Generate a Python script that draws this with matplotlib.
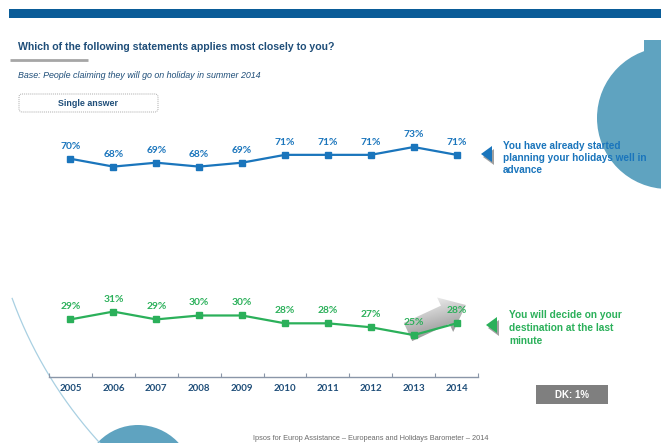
import numpy as np
import matplotlib
matplotlib.use('Agg')
import matplotlib.pyplot as plt
from matplotlib.patches import Rectangle, Circle, Polygon, FancyBboxPatch

plt.rcParams['font.family'] = ['Liberation Sans', 'DejaVu Sans']

years = ['2005', '2006', '2007', '2008', '2009', '2010', '2011', '2012', '2013', '2014']
advance = [70, 68, 69, 68, 69, 71, 71, 71, 73, 71]      # already planning
last_minute = [29, 31, 29, 30, 30, 28, 28, 27, 25, 28]  # decide at the last minute

BLUE = '#1a75bc'
GREEN = '#2bb05a'
NAVY = '#1f4e79'
TEAL = '#5fa3c0'

W, H = 661, 443
fig = plt.figure(figsize=(W / 100, H / 100), dpi=100)

# background layer in pixel coordinates
bg = fig.add_axes([0, 0, 1, 1], zorder=0)
bg.set_xlim(0, W)
bg.set_ylim(H, 0)
bg.axis('off')

bg.add_patch(Rectangle((9, 9), W - 9, 8.5, color='#0a5c98', lw=0))
bg.plot([10, 88], [60, 60], color='#a6a6a6', lw=2, solid_capstyle='butt')
bg.text(18, 47, 'Which of the following statements applies most closely to you?',
        fontsize=7.6, fontweight='bold', color=NAVY, va='center')
bg.text(18, 75, 'Base: People claiming they will go on holiday in summer 2014',
        fontsize=6.4, style='italic', color=NAVY, va='center')
bg.add_patch(FancyBboxPatch((19, 94), 139, 18, boxstyle='round,pad=0,rounding_size=3',
                            fc='white', ec='#aaaaaa', lw=0.7, ls=(0, (1, 1))))
bg.text(88, 103, 'Single answer', fontsize=6.4, fontweight='bold', color=NAVY,
        ha='center', va='center')

# decorative circles
bg.add_patch(Circle((668, 118), 71, color=TEAL, lw=0, zorder=1))
bg.add_patch(Rectangle((644, 40), 20, 20, color=TEAL, lw=0, zorder=1))
bg.add_patch(Circle((138, 480), 55, color=TEAL, lw=0, zorder=1))
t = np.radians(np.linspace(160, 128, 200))
bg.plot(420 + 434 * np.cos(t), 150 + 434 * np.sin(t), color='#a9d0e2', lw=0.9, zorder=1)

# pointer triangles with shadow
for (tx, ty), col in [((481, 154), BLUE), ((486, 325), GREEN)]:
    shadow = [(tx + 2, ty + 3), (tx + 13, ty - 5), (tx + 13, ty + 11)]
    tri = [(tx, ty), (tx + 11, ty - 8), (tx + 11, ty + 8)]
    bg.add_patch(Polygon(shadow, color='#a0a0a0', lw=0, zorder=3))
    bg.add_patch(Polygon(tri, color=col, lw=0, zorder=4))

bg.text(503, 158, 'You have already started\nplanning your holidays well in\nadvance',
        fontsize=7.2, fontweight='bold', color=BLUE, va='center', linespacing=1.25, zorder=5)
bg.text(509, 328, 'You will decide on your\ndestination at the last\nminute',
        fontsize=7.3, fontweight='bold', color=GREEN, va='center', linespacing=1.35, zorder=5)

# gradient arrow behind the last segment
p0 = np.array([408.0, 332.0])
p1 = np.array([466.0, 305.0])
u = (p1 - p0) / np.linalg.norm(p1 - p0)
n = np.array([-u[1], u[0]])
if n[1] < 0:
    n = -n
L = np.linalg.norm(p1 - p0)
hl, bw, hw = 23, 10, 19
base = p0 + u * (L - hl)
arrow_pts = [p0 - n * bw, base - n * bw, base - n * hw, p1,
             base + n * hw, base + n * bw, p0 + n * bw]
arrow = Polygon(arrow_pts, closed=True, fc='none', ec='none', zorder=2)
bg.add_patch(arrow)
xs = np.arange(390, 482)
ys = np.arange(278, 358)
gx, gy = np.meshgrid(xs, ys)
d = ((gx - p0[0]) * n[0] + (gy - p0[1]) * n[1]) / hw
along = ((gx - p0[0]) * u[0] + (gy - p0[1]) * u[1]) / L
shade = 0.95 - 0.32 * np.clip((d + 1) / 2, 0, 1) - 0.1 * (1 - np.clip(along, 0, 1))
im = bg.imshow(shade, cmap='gray', vmin=0, vmax=1, extent=(xs[0], xs[-1], ys[-1], ys[0]),
               origin='upper', aspect='auto', zorder=2)
im.set_clip_path(arrow)
bg.set_xlim(0, W)
bg.set_ylim(H, 0)

# DK box and footer
bg.add_patch(Rectangle((536, 385), 72, 19, color='#7f7f7f', lw=0))
bg.text(572, 394.5, 'DK: 1%', fontsize=7, fontweight='bold', color='white',
        ha='center', va='center')
bg.text(371, 442.5, 'Ipsos for Europ Assistance \u2013 Europeans and Holidays Barometer \u2013 2014',
        fontsize=5.3, color='#6b6b6b', ha='center', va='bottom')

# line chart
ax = fig.add_axes([49 / W, (H - 377) / H, (478 - 49) / W, (377 - 100) / H], zorder=1)
ax.patch.set_alpha(0)
x = np.arange(len(years))
for vals, col in [(advance, BLUE), (last_minute, GREEN)]:
    ax.plot(x, vals, color=col, lw=1.6, marker='s', markersize=4.3)
    for xi, v in zip(x, vals):
        ax.annotate(f'{v}%', (xi, v), xytext=(0, 9), textcoords='offset points',
                    ha='center', va='center', fontsize=7.4, fontweight='bold',
                    color=col, family=['Lato', 'DejaVu Sans'])

ax.set_xlim(-0.5, len(years) - 0.5)
ax.set_ylim(14.3, 85.0)
for s in ['top', 'right', 'left']:
    ax.spines[s].set_visible(False)
ax.spines['bottom'].set_color('#8a96a8')
ax.spines['bottom'].set_linewidth(1)
ax.set_yticks([])
ax.set_xticks(np.arange(-0.5, len(years)), labels=[''] * (len(years) + 1))
ax.tick_params(axis='x', which='major', direction='in', length=3, color='#8a96a8')
ax.set_xticks(x, labels=years, minor=True)
ax.tick_params(axis='x', which='minor', length=0, pad=5, labelsize=7,
               labelcolor=NAVY)
for lab in ax.get_xticklabels(minor=True):
    lab.set_fontweight('bold')
    lab.set_family(['Lato', 'DejaVu Sans'])

fig.savefig('out.png', dpi=100)
